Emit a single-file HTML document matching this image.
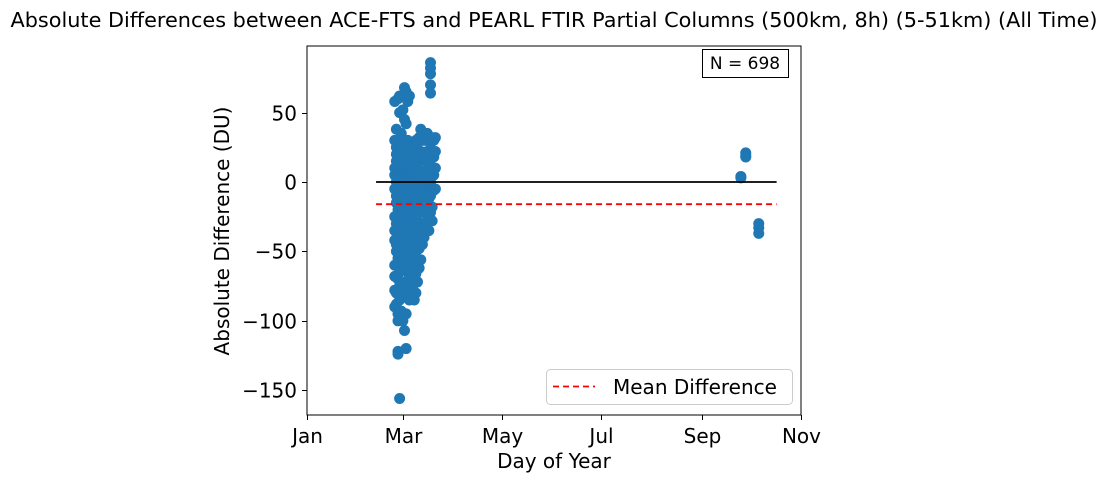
<!DOCTYPE html>
<html><head><meta charset="utf-8"><style>
body{margin:0;background:#fff;}
svg{display:block;font-family:"DejaVu Sans","Liberation Sans",sans-serif;}
</style></head><body>
<svg id="chart" width="1108" height="481">
<rect width="1108" height="481" fill="#fff"/>
<text x="554" y="27" text-anchor="middle" font-size="20.8">Absolute Differences between ACE-FTS and PEARL FTIR Partial Columns (500km, 8h) (5-51km) (All Time)</text>
<g id="points"></g>
<g id="lines"></g>
<rect x="307" y="46" width="494" height="369" fill="none" stroke="#000" stroke-width="1"/>
<g id="axes"></g>
<text x="554" y="468" text-anchor="middle" font-size="20">Day of Year</text>
<text transform="translate(229,231) rotate(-90)" text-anchor="middle" font-size="20">Absolute Difference (DU)</text>
<g>
<rect x="702.5" y="49.5" width="86" height="28" fill="#fff" stroke="#000" stroke-width="1"/>
<text x="745" y="69" text-anchor="middle" font-size="17">N = 698</text>
</g>
<g>
<rect x="546.5" y="369.5" width="246" height="35" rx="4" fill="#fff" fill-opacity="0.8" stroke="#ccc" stroke-width="1"/>
<line x1="553" y1="386.5" x2="595" y2="386.5" stroke="red" stroke-width="1.8" stroke-dasharray="6,4"/>
<text x="613" y="394" font-size="20">Mean Difference</text>
</g>
</svg>
<script>
const groupDays = [55,56,57,58,59,60,61,62,63,64,65,66,67,68,69,70,71,72,73,74,75,76,77,78,79,80,268,271,279];
const groupValues = [
[-42,-25,-5,10,30,58,-60,-78,-90,-68,-35,5],
[38,20,0,-15,-30,-50,-88,-80,-45,-10,15,25],
[60,30,8,-20,-40,-55,-70,-100,-95,-122,-124,-60,-5,12],
[62,50,22,-8,-25,-48,-65,-85,-75,-35,-15,3,18,-156],
[35,15,-2,-18,-32,-52,-72,-93,-30,-10,5,25],
[52,28,12,-6,-22,-40,-58,-80,-100,-60,-15],
[68,45,20,0,-12,-28,-45,-63,-82,-107,-35,8],
[65,42,18,-3,-20,-38,-55,-75,-120,-95,-25,10],
[58,30,10,-8,-25,-42,-60,-80,-45,-15,5,22],
[62,25,5,-10,-28,-48,-68,-85,-35,15],
[20,8,-5,-20,-35,-50,-65,-78,-10,-25],
[22,10,-2,-15,-30,-45,-60,-75,-40,5],
[25,12,0,-12,-25,-40,-55,-70,-85,-18],
[30,15,2,-10,-22,-36,-50,-66,-80],
[28,14,0,-14,-28,-42,-58,-72],
[32,18,5,-8,-20,-34,-48,-62],
[38,22,8,-5,-18,-30,-44,-56],
[35,20,6,-6,-20,-32,-45],
[30,16,3,-10,-22,-35,-40],
[32,18,5,-8,-20,-30],
[35,22,10,-2,-15,-28],
[30,15,2,-12,-25,-35],
[28,12,0,-10,-22,86,82,78,70,64],
[32,20,8,-5,-18,-28],
[30,18,5,-6],
[32,22,10,-5],
[4,3],
[21,19,18],
[-30,-33,-37]
];
const meanDifference = -16;
const zeroLineDays = [43.5, 290];
const xTickDays = [1,60,121,182,244,305];
const xTickLabels = ["Jan","Mar","May","Jul","Sep","Nov"];
const yTickValues = [50,0,-50,-100,-150];
const yTickLabels = ["50","0","\u221250","\u2212100","\u2212150"];

const NS="http://www.w3.org/2000/svg";
const X0=307,X1=801,D0=1,D1=305;
const Y0=182,PPU=69.4/50;
function xs(d){return X0+(d-D0)*(X1-X0)/(D1-D0);}
function ys(v){return Y0-v*PPU;}
function mk(tag,attrs,parent){const e=document.createElementNS(NS,tag);for(const k in attrs)e.setAttribute(k,attrs[k]);parent.appendChild(e);return e;}

const pts=document.getElementById('points');
groupDays.forEach((d,i)=>{
  groupValues[i].forEach(v=>{
    const c=mk('circle',{cx:xs(d),cy:ys(v),r:5.5,fill:'#1f77b4'},pts);
    
    
  });
});
const ln=document.getElementById('lines');
const zl=mk('line',{x1:xs(zeroLineDays[0]),x2:xs(zeroLineDays[1]),y1:ys(0),y2:ys(0),stroke:'#000','stroke-width':1.8},ln);


const ml=mk('line',{x1:xs(zeroLineDays[0]),x2:xs(zeroLineDays[1]),y1:ys(meanDifference),y2:ys(meanDifference),stroke:'red','stroke-width':1.8,'stroke-dasharray':'6,4'},ln);



const ax=document.getElementById('axes');
xTickDays.forEach((d,i)=>{
  const x=Math.round(xs(d))+0.5;
  const t=mk('line',{x1:x,x2:x,y1:415,y2:420,stroke:'#000'},ax);
  
  
  const l=mk('text',{x:x,y:443,'text-anchor':'middle','font-size':20},ax);
  l.textContent=xTickLabels[i];
  
  
});
yTickValues.forEach((v,i)=>{
  const y=Math.round(ys(v))+0.5;
  const t=mk('line',{x1:302,x2:307,y1:y,y2:y,stroke:'#000'},ax);
  
  
  const l=mk('text',{x:297,y:y+7,'text-anchor':'end','font-size':20},ax);
  l.textContent=yTickLabels[i];
  
  
});
</script>
</body></html>
